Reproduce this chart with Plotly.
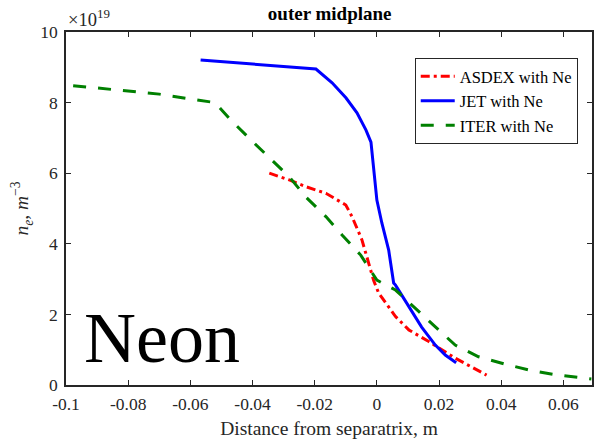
import plotly.graph_objects as go

# Distance from separatrix (m) and n_e (units of 1e19 m^-3)
jet_x = [-0.0567, -0.0196, -0.0144, -0.0099, -0.0064, -0.0035, -0.0019, -0.0010, 0.0000,
         0.0016, 0.0038, 0.0054, 0.0060, 0.0103, 0.0144, 0.0188, 0.0220, 0.0255]
jet_y = [9.21, 8.95, 8.56, 8.13, 7.71, 7.22, 6.88, 6.18, 5.24,
         4.59, 3.82, 2.89, 2.83, 2.22, 1.64, 1.13, 0.85, 0.63]

asdex_x = [-0.0346, -0.0282, -0.0229, -0.0164, -0.0100, -0.0080, -0.0048, -0.0026, -0.0010,
           0.0006, 0.0060, 0.0103, 0.0167, 0.0252, 0.0353]
asdex_y = [6.00, 5.81, 5.62, 5.43, 5.10, 4.77, 4.11, 3.45, 2.95,
           2.60, 1.94, 1.56, 1.23, 0.76, 0.28]

iter_x = [-0.0977, -0.0870, -0.0785, -0.0700, -0.0613, -0.0528, -0.0517, -0.0469, -0.0405,
          -0.0336, -0.0282, -0.0229, -0.0164, -0.0112, -0.0052, 0.0000, 0.0060, 0.0124,
          0.0188, 0.0252, 0.0327, 0.0412, 0.0497, 0.0583, 0.0690]
iter_y = [8.48, 8.39, 8.30, 8.24, 8.12, 8.01, 7.96, 7.50, 6.94,
          6.37, 5.90, 5.33, 4.77, 4.25, 3.68, 2.97, 2.69, 2.17,
          1.65, 1.13, 0.80, 0.59, 0.41, 0.28, 0.17]

x_ticks = [-0.1, -0.08, -0.06, -0.04, -0.02, 0, 0.02, 0.04, 0.06]
x_ticklabels = ["-0.1", "-0.08", "-0.06", "-0.04", "-0.02", "0", "0.02", "0.04", "0.06"]
y_ticks = [0, 2, 4, 6, 8, 10]
y_ticklabels = ["0", "2", "4", "6", "8", "10"]

FONT = "Liberation Serif, Times New Roman, serif"
GRAY = "#262626"

fig = go.Figure()
fig.add_trace(go.Scatter(x=asdex_x, y=asdex_y, mode="lines", name="ASDEX with Ne",
                         line=dict(color="#ff0000", width=3, dash="9px,4px,3px,4px")))
fig.add_trace(go.Scatter(x=jet_x, y=jet_y, mode="lines", name="JET with Ne",
                         line=dict(color="#0000ff", width=3)))
fig.add_trace(go.Scatter(x=iter_x, y=iter_y, mode="lines", name="ITER with Ne",
                         line=dict(color="#008000", width=3, dash="13px,12px")))

axis_common = dict(showgrid=False, zeroline=False, showline=True, linecolor=GRAY,
                   linewidth=1.5, mirror="ticks", ticks="inside", ticklen=5,
                   tickcolor=GRAY, tickwidth=1,
                   tickfont=dict(family=FONT, size=17.5, color=GRAY))

fig.update_xaxes(range=[-0.1, 0.0692], tickvals=x_ticks, ticktext=x_ticklabels,
                 ticklabelstandoff=2,
                 title=dict(text="Distance from separatrix, m",
                            font=dict(family=FONT, size=19.5, color=GRAY), standoff=9),
                 **axis_common)
fig.update_yaxes(range=[0, 10], tickvals=y_ticks, ticktext=y_ticklabels,
                 ticklabelstandoff=3,
                 title=dict(text="<i>n<sub>e</sub></i>, <i>m</i><sup>−3</sup>",
                            font=dict(family=FONT, size=19.5, color=GRAY), standoff=6),
                 **axis_common)

fig.update_layout(
    width=594, height=439,
    margin=dict(l=66, r=0, t=32, b=54),
    paper_bgcolor="white", plot_bgcolor="white",
    title=dict(text="<b>outer midplane</b>", x=0.555, xanchor="center", y=0.97, yanchor="middle",
               font=dict(family=FONT, size=19, color="black")),
    showlegend=True,
    legend=dict(x=0.663, y=0.926, xanchor="left", yanchor="top",
                bgcolor="white", bordercolor=GRAY, borderwidth=1,
                font=dict(family=FONT, size=16.5, color="black"),
                tracegroupgap=0, itemwidth=34),
    annotations=[
        dict(text="×10<sup>19</sup>", xref="paper", yref="paper", x=0.0, y=1.0,
             xanchor="left", yanchor="bottom", showarrow=False,
             font=dict(family=FONT, size=18.5, color=GRAY)),
        dict(text="Neon", xref="paper", yref="paper", x=0.03, y=0.015,
             xanchor="left", yanchor="bottom", showarrow=False,
             font=dict(family=FONT, size=72, color="black")),
    ],
)

fig.write_html("out.html")
